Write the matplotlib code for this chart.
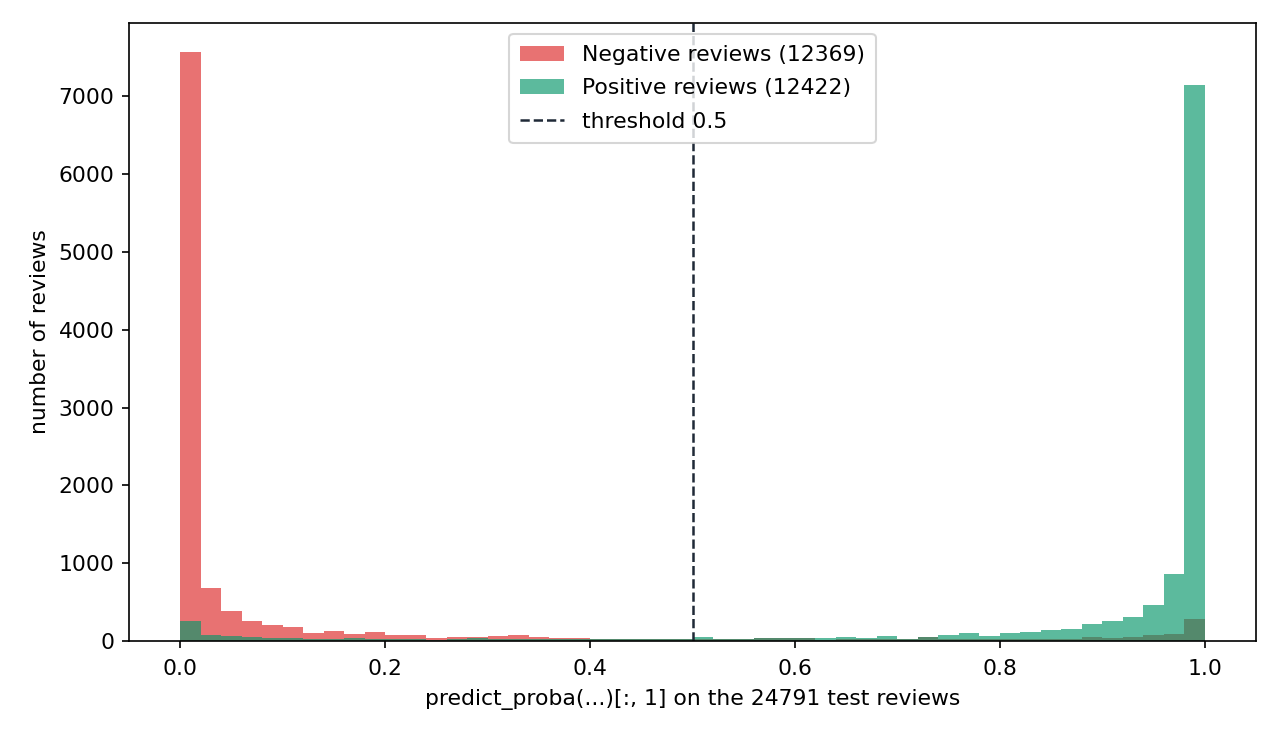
import numpy as np
import matplotlib
matplotlib.use("Agg")
import matplotlib.pyplot as plt

# histogram counts, 50 bins of width 0.02 on [0, 1]
bin_edges = np.linspace(0.0, 1.0, 51)

neg_counts = [7566, 685, 390, 260, 205, 180, 103, 128, 90, 116,
              77, 77, 36, 51, 47, 64, 77, 51, 38, 38,
              27, 27, 27, 27, 27, 26, 26, 26, 38, 38,
              38, 13, 26, 26, 26, 26, 51, 20, 26, 26,
              26, 26, 26, 26, 51, 38, 51, 77, 90, 282]

pos_counts = [261, 81, 64, 51, 38, 38, 26, 26, 38, 26,
              26, 26, 13, 26, 38, 26, 26, 26, 26, 26,
              27, 27, 27, 27, 27, 51, 26, 26, 38, 38,
              38, 38, 51, 38, 64, 26, 51, 77, 103, 64,
              103, 116, 141, 154, 218, 257, 308, 462, 865, 7150]

n_neg = 12369
n_pos = 12422
n_test = 24791
threshold = 0.5

centers = (bin_edges[:-1] + bin_edges[1:]) / 2

plt.rcParams['font.size'] = 10.5

fig, ax = plt.subplots(figsize=(1280 / 150, 736 / 150), dpi=150)
fig.subplots_adjust(left=0.1008, right=0.9813, top=0.9688, bottom=0.129)

ax.hist(centers, bins=bin_edges, weights=neg_counts, color="#dc2626", alpha=0.65,
        label=f"Negative reviews ({n_neg})")
ax.hist(centers, bins=bin_edges, weights=pos_counts, color="#059669", alpha=0.65,
        label=f"Positive reviews ({n_pos})")
ax.axvline(threshold, color="#1f2937", linestyle="--", linewidth=1.2,
           label=f"threshold {threshold}")

ax.set_xlabel(f"predict_proba(...)[:, 1] on the {n_test} test reviews", labelpad=5)
ax.set_ylabel("number of reviews")
ax.tick_params(axis="x", pad=5)
ax.legend(loc="upper center", labelspacing=0.62, borderpad=0.5)

fig.savefig("out.png", dpi=150)
